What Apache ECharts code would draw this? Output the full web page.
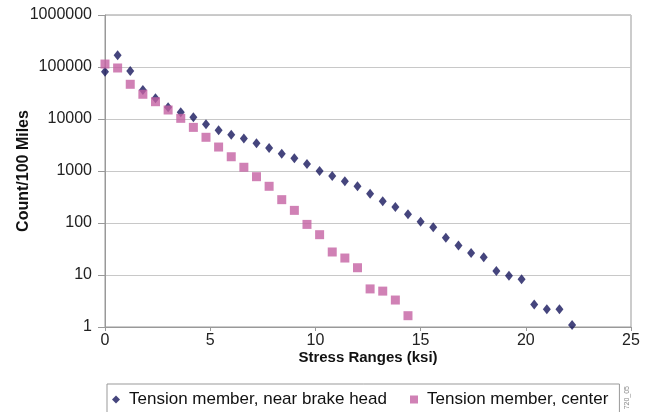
<!DOCTYPE html>
<html>
<head>
<meta charset="utf-8">
<script src="https://cdn.jsdelivr.net/npm/echarts@6/dist/echarts.min.js"></script>
<style>
  html, body { margin: 0; padding: 0; background: #fff; }
  #main { width: 653px; height: 412px; }
</style>
</head>
<body>
<div id="main"></div>
<script>
// stress range bins (ksi)
var stressRanges = [0, 0.6, 1.2, 1.8, 2.4, 3.0, 3.6, 4.2, 4.8, 5.4, 6.0, 6.6, 7.2, 7.8, 8.4, 9.0,
  9.6, 10.2, 10.8, 11.4, 12.0, 12.6, 13.2, 13.8, 14.4, 15.0, 15.6, 16.2, 16.8, 17.4, 18.0,
  18.6, 19.2, 19.8, 20.4, 21.0, 21.6, 22.2];

// counts per 100 miles
var nearBrakeHead = [81000, 168000, 84000, 36000, 25000, 16800, 13500, 10800, 7900, 6100, 5000,
  4200, 3400, 2770, 2150, 1750, 1370, 1000, 800, 634, 508, 366, 261, 203, 147, 106, 83, 52,
  37, 26.5, 21.9, 11.9, 9.7, 8.3, 2.7, 2.2, 2.2, 1.09];
var center = [114000, 95700, 46500, 29900, 21500, 14900, 10300, 6900, 4450, 2890, 1880, 1180,
  777, 508, 281, 175, 94, 59.6, 27.7, 21.2, 13.8, 5.4, 4.9, 3.3, 1.65];

function pairs(vals) {
  return vals.map(function (v, i) { return [stressRanges[i], v]; });
}

var chart = echarts.init(document.getElementById('main'));

var option = {
  animation: false,
  textStyle: { fontFamily: 'Liberation Sans, Arial, sans-serif' },
  grid: {
    left: 105, right: 22, top: 15, bottom: 85,
    outerBoundsMode: 'none',
    show: true, borderColor: '#999', borderWidth: 1
  },
  xAxis: {
    type: 'value',
    min: 0, max: 25, interval: 5,
    name: 'Stress Ranges (ksi)',
    nameLocation: 'middle',
    nameGap: 23,
    nameMoveOverlap: false,
    nameTextStyle: { fontSize: 15, fontWeight: 'bold', color: '#111' },
    axisLine: { lineStyle: { color: '#999' } },
    axisTick: { show: true, length: 4, lineStyle: { color: '#999' } },
    axisLabel: { fontSize: 16, color: '#222', margin: 6 },
    splitLine: { show: false }
  },
  yAxis: {
    type: 'log',
    logBase: 10,
    min: 1, max: 1000000,
    name: 'Count/100 Miles',
    nameLocation: 'middle',
    nameGap: 73,
    nameMoveOverlap: false,
    nameTextStyle: { fontSize: 16, fontWeight: 'bold', color: '#111' },
    axisLine: { show: true, lineStyle: { color: '#999' } },
    axisTick: { show: true, length: 7, lineStyle: { color: '#999' } },
    axisLabel: {
      fontSize: 16, color: '#222', margin: 13,
      formatter: function (v) { return String(Math.round(v)); }
    },
    splitLine: { show: true, lineStyle: { color: '#c8c8c8', width: 1 } }
  },
  legend: {
    left: 107, top: 384,
    itemWidth: 8, itemHeight: 8, itemGap: 23,
    padding: [7, 11, 10, 5],
    borderColor: '#999', borderWidth: 1,
    textStyle: { fontSize: 17, color: '#111', padding: [0, 0, 0, 4] },
    data: [
      { name: 'Tension member, near brake head', icon: 'diamond' },
      { name: 'Tension member, center', icon: 'rect' }
    ]
  },
  graphic: [{
    type: 'text',
    left: 624, top: 386,
    rotation: Math.PI / 2,
    style: { text: '720_05', fontSize: 7, fill: '#888' }
  }],
  series: [
    {
      name: 'Tension member, near brake head',
      type: 'scatter',
      symbol: 'diamond',
      symbolSize: [8, 10],
      itemStyle: { color: '#17165c' },
      data: pairs(nearBrakeHead),
      z: 2
    },
    {
      name: 'Tension member, center',
      type: 'scatter',
      symbol: 'rect',
      symbolSize: 9,
      itemStyle: { color: '#c462a2' },
      data: pairs(center),
      z: 3
    }
  ]
};

chart.setOption(option);
</script>
</body>
</html>
